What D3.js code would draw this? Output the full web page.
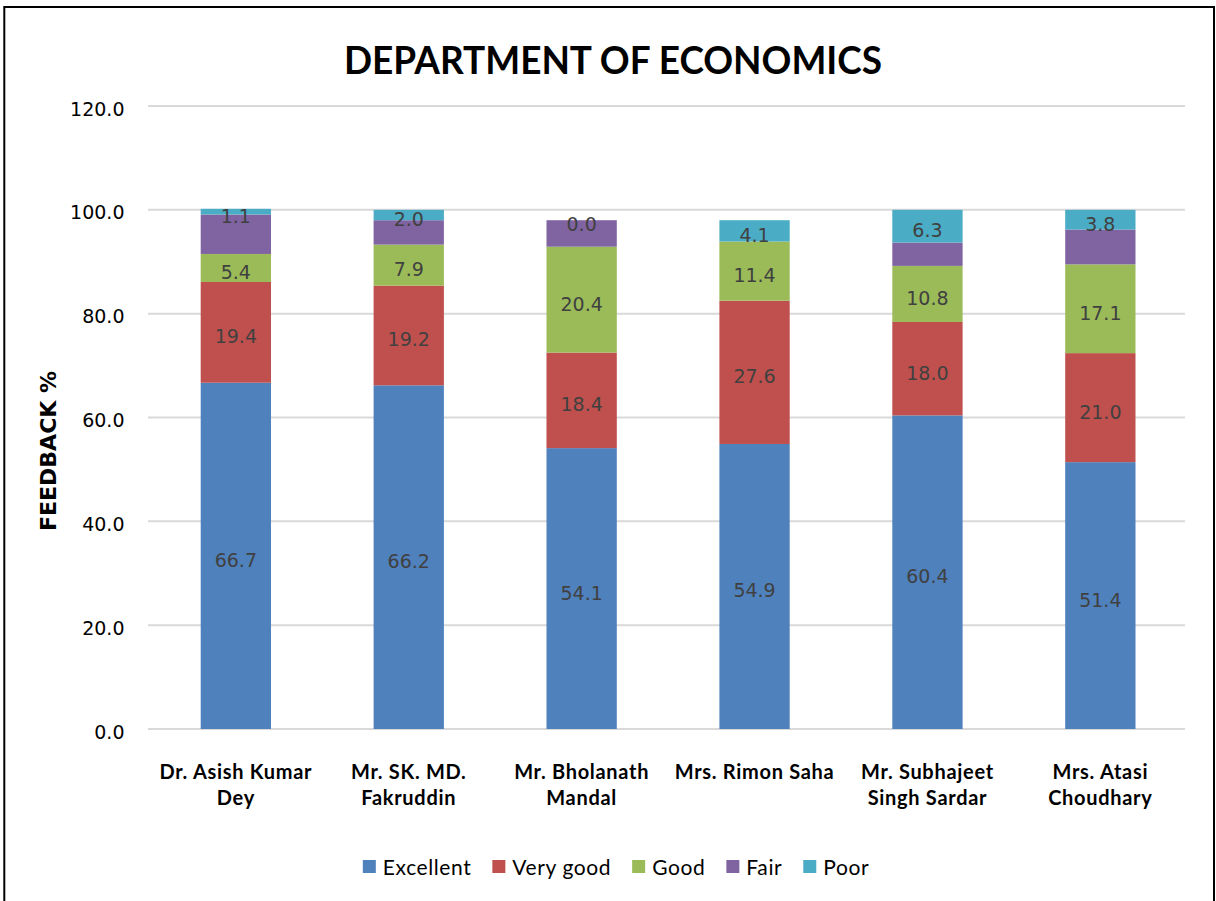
<!DOCTYPE html>
<html>
<head>
<meta charset="utf-8">
<script src="https://cdn.jsdelivr.net/npm/d3@7"></script>
<style>
  body { margin: 0; background: #fff; }
  svg { display: block; }
</style>
</head>
<body>
<div id="chart"></div>
<script>
// teachers (x categories) and how they wrap under the axis
var categories = ["Dr. Asish Kumar Dey", "Mr. SK. MD. Fakruddin", "Mr. Bholanath Mandal",
                  "Mrs. Rimon Saha", "Mr. Subhajeet Singh Sardar", "Mrs. Atasi Choudhary"];
var tickLines = [["Dr. Asish Kumar", "Dey"], ["Mr. SK. MD.", "Fakruddin"], ["Mr. Bholanath", "Mandal"],
                 ["Mrs. Rimon Saha"], ["Mr. Subhajeet", "Singh Sardar"], ["Mrs. Atasi", "Choudhary"]];

// feedback % per series
var seriesNames = ["Excellent", "Very good", "Good", "Fair", "Poor"];
var excellent = [66.7, 66.2, 54.1, 54.9, 60.4, 51.4];
var veryGood  = [19.4, 19.2, 18.4, 27.6, 18.0, 21.0];
var good      = [5.4, 7.9, 20.4, 11.4, 10.8, 17.1];
var fair      = [7.6, 4.7, 5.1, 0.0, 4.5, 6.7];
var poor      = [1.1, 2.0, 0.0, 4.1, 6.3, 3.8];
var showLabel = [true, true, true, false, true]; // fair labels are hidden in the original

var yTicks = [0, 20, 40, 60, 80, 100, 120];
var colors = ["#4F81BD", "#C0504D", "#9BBB59", "#8064A2", "#4BACC6"];

var W = 1216, H = 901;

// build table for d3.stack
var table = categories.map(function(c, i) {
  return { name: c, "Excellent": excellent[i], "Very good": veryGood[i], "Good": good[i],
           "Fair": fair[i], "Poor": poor[i] };
});
var stacked = d3.stack().keys(seriesNames)(table);

var svg = d3.select("#chart").append("svg")
    .attr("width", W)
    .attr("height", H);

// outer border of the chart
svg.append("rect")
    .attr("x", 4.3).attr("y", 7)
    .attr("width", 1209.7).attr("height", 905)
    .style("fill", "#fff")
    .style("stroke", "#000")
    .style("stroke-width", 2);

var xScale = d3.scaleBand()
    .domain(categories)
    .range([149.4, 1186.8])
    .padding(0);
var barW = 70.3;

var yScale = d3.scaleLinear()
    .domain([0, 120])
    .range([729, 106]);

// gridlines
svg.append("g").attr("class", "grid")
  .selectAll("line")
  .data(yTicks)
  .enter().append("line")
    .attr("x1", 148).attr("x2", 1185)
    .attr("y1", function(d) { return yScale(d); })
    .attr("y2", function(d) { return yScale(d); })
    .style("stroke", "#d9d9d9")
    .style("stroke-width", 2);

// y axis labels
var yAxis = svg.append("g")
    .attr("class", "y axis")
    .attr("transform", "translate(124.5,0)")
    .call(d3.axisLeft(yScale).tickValues(yTicks).tickSize(0).tickPadding(0)
          .tickFormat(function(d) { return d.toFixed(1); }));
yAxis.select(".domain").remove();
yAxis.selectAll("text")
    .attr("dy", null)
    .attr("y", 9)
    .style("font-family", "'DejaVu Sans', sans-serif")
    .style("font-size", "19px")
    .style("fill", "#000");

// bars
var layers = svg.append("g").selectAll("g.layer")
  .data(stacked)
  .enter().append("g")
    .attr("class", "layer")
    .style("fill", function(d, i) { return colors[i]; });

layers.selectAll("rect")
  .data(function(d) { return d; })
  .enter().append("rect")
    .attr("x", function(d) { return xScale(d.data.name) + xScale.bandwidth() / 2 - barW / 2; })
    .attr("width", barW)
    .attr("y", function(d) { return yScale(d[1]); })
    .attr("height", function(d) { return yScale(d[0]) - yScale(d[1]); });

// data labels
stacked.forEach(function(layer, i) {
  if (!showLabel[i]) return;
  svg.append("g").selectAll("text")
    .data(layer)
    .enter().append("text")
      .attr("x", function(d) { return xScale(d.data.name) + xScale.bandwidth() / 2; })
      .attr("y", function(d) { return (yScale(d[0]) + yScale(d[1])) / 2 + 11; })
      .style("text-anchor", "middle")
      .style("font-family", "'DejaVu Sans', sans-serif")
      .style("font-size", "19px")
      .style("fill", "#404040")
      .text(function(d) { return (d[1] - d[0]).toFixed(1); });
});

// category labels
var xLab = svg.append("g").selectAll("text")
  .data(categories)
  .enter().append("text")
    .attr("transform", function(d) { return "translate(" + (xScale(d) + xScale.bandwidth() / 2) + ",779.3)"; })
    .style("text-anchor", "middle")
    .style("font-family", "Lato, sans-serif")
    .style("font-weight", "bold")
    .style("font-size", "20px")
    .style("letter-spacing", "0.7px")
    .style("fill", "#000");
xLab.selectAll("tspan")
  .data(function(d, i) { return tickLines[i]; })
  .enter().append("tspan")
    .attr("x", 0)
    .attr("y", function(d, j) { return j * 26; })
    .text(function(d) { return d; });

// title
svg.append("text")
    .attr("x", 613)
    .attr("y", 74.3)
    .attr("textLength", 538)
    .attr("lengthAdjust", "spacingAndGlyphs")
    .style("text-anchor", "middle")
    .style("font-family", "Lato, sans-serif")
    .style("font-weight", "bold")
    .style("font-size", "38px")
    .style("fill", "#000")
    .text("DEPARTMENT OF ECONOMICS");

// y axis title
svg.append("text")
    .attr("transform", "translate(55.5,451) rotate(-90)")
    .style("text-anchor", "middle")
    .style("font-family", "'DejaVu Sans', sans-serif")
    .style("font-weight", "bold")
    .style("font-size", "22px")
    .style("fill", "#000")
    .text("FEEDBACK %");

// legend
var legend = svg.append("g").attr("class", "legend");
var lx = 0;
seriesNames.forEach(function(name, i) {
  var item = legend.append("g").attr("transform", "translate(" + lx + ",0)");
  item.append("rect")
      .attr("x", 0).attr("y", 860)
      .attr("width", 13).attr("height", 13)
      .style("fill", colors[i]);
  var t = item.append("text")
      .attr("x", 20).attr("y", 875)
      .style("font-family", "Lato, sans-serif")
      .style("font-size", "21px")
      .style("letter-spacing", "0.6px")
      .style("fill", "#000")
      .text(name);
  lx += 20 + t.node().getComputedTextLength() + 21;
});
var legendW = lx - 21;
legend.attr("transform", "translate(" + (616 - legendW / 2) + ",0)");
</script>
</body>
</html>
